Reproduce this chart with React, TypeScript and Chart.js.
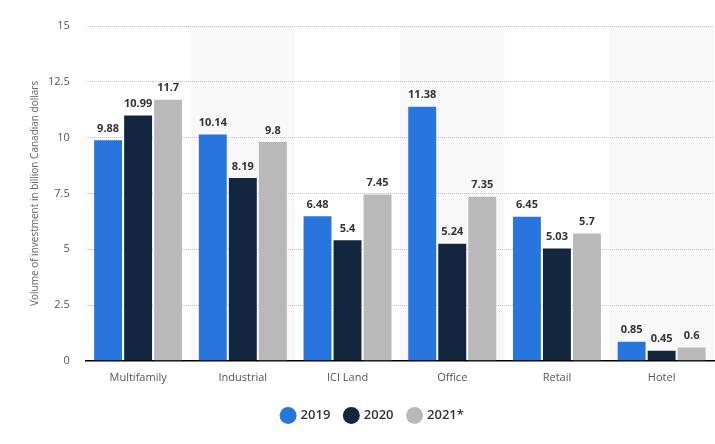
import React, { useEffect, useRef } from "react";
import { Chart, registerables } from "chart.js";

Chart.register(...registerables);

const categories = ["Multifamily", "Industrial", "ICI Land", "Office", "Retail", "Hotel"];
const series2019 = [9.88, 10.14, 6.48, 11.38, 6.45, 0.85];
const series2020 = [10.99, 8.19, 5.4, 5.24, 5.03, 0.45];
const series2021 = [11.7, 9.8, 7.45, 7.35, 5.7, 0.6];
const seriesNames = ["2019", "2020", "2021*"];
const yTicks = [0, 2.5, 5, 7.5, 10, 12.5, 15];
const shadedCategories = [1, 3, 5];
const yTitle = "Volume of investment in billion Canadian dollars";

const COLORS = ["#2876dd", "#12263f", "#b9b9b9"];
const FONT = "'Open Sans', 'Noto Sans', sans-serif";

const bandPlugin = {
  id: "bands",
  beforeDraw(chart: any) {
    const { ctx, chartArea, scales } = chart;
    const x = scales.x;
    const step = (chartArea.right - chartArea.left) / categories.length;
    ctx.save();
    ctx.fillStyle = "#f8f8f8";
    shadedCategories.forEach((i) => {
      const c = x.getPixelForValue(i);
      ctx.fillRect(c - step / 2, chartArea.top, step, chartArea.bottom - chartArea.top);
    });
    ctx.restore();
  },
};

const labelPlugin = {
  id: "valueLabels",
  afterDatasetsDraw(chart: any) {
    const { ctx, chartArea } = chart;
    ctx.save();
    ctx.font = `bold 11px ${FONT}`;
    ctx.fillStyle = "#333333";
    ctx.textAlign = "center";
    ctx.textBaseline = "bottom";
    chart.data.datasets.forEach((ds: any, di: number) => {
      const meta = chart.getDatasetMeta(di);
      meta.data.forEach((bar: any, i: number) => {
        ctx.fillText(String(ds.data[i]), bar.x, bar.y - 6);
      });
    });
    // y axis title
    ctx.font = `10px ${FONT}`;
    ctx.fillStyle = "#666";
    ctx.textBaseline = "middle";
    ctx.translate(35, (chartArea.top + chartArea.bottom) / 2);
    ctx.rotate(-Math.PI / 2);
    ctx.fillText(yTitle, 0, 0);
    ctx.restore();
  },
};

export default function App() {
  const ref = useRef<HTMLCanvasElement>(null);
  useEffect(() => {
    document.body.style.margin = "0";
    const chart = new Chart(ref.current!, {
      type: "bar",
      data: {
        labels: categories,
        datasets: [series2019, series2020, series2021].map((d, i) => ({
          label: seriesNames[i],
          data: d,
          backgroundColor: COLORS[i],
          borderWidth: 0,
          categoryPercentage: 0.86,
          barPercentage: 0.93,
        })),
      },
      options: {
        animation: false,
        responsive: false,
        maintainAspectRatio: false,
        layout: { padding: { top: 26, right: 1, left: 32, bottom: 12 } },
        plugins: {
          legend: {
            position: "bottom",
            labels: {
              usePointStyle: true,
              pointStyle: "circle",
              boxWidth: 12,
              boxHeight: 12,
              padding: 15,
              color: "#333",
              font: { family: FONT, size: 13, weight: "600" },
            },
          },
          tooltip: { enabled: false },
        },
        scales: {
          x: {
            grid: { display: false, drawTicks: false },
            border: { color: "#000", width: 1.5 },
            ticks: { color: "#555", font: { family: FONT, size: 11 }, padding: 10 },
          },
          y: {
            min: 0,
            max: 15,
            afterBuildTicks: (axis: any) => {
              axis.ticks = yTicks.map((v) => ({ value: v }));
            },
            grid: { color: "#c4c4c4", drawTicks: false, lineWidth: 1, borderDash: [1, 1] } as any,
            border: { display: false, dash: [1, 1] },
            ticks: { color: "#555", font: { family: FONT, size: 11 }, padding: 16 },
          },
        },
      },
      plugins: [bandPlugin, labelPlugin],
    });
    return () => chart.destroy();
  }, []);
  return (
    <div style={{ width: 715, height: 444 }}>
      <canvas ref={ref} width={715} height={444} style={{ display: "block" }} />
    </div>
  );
}
